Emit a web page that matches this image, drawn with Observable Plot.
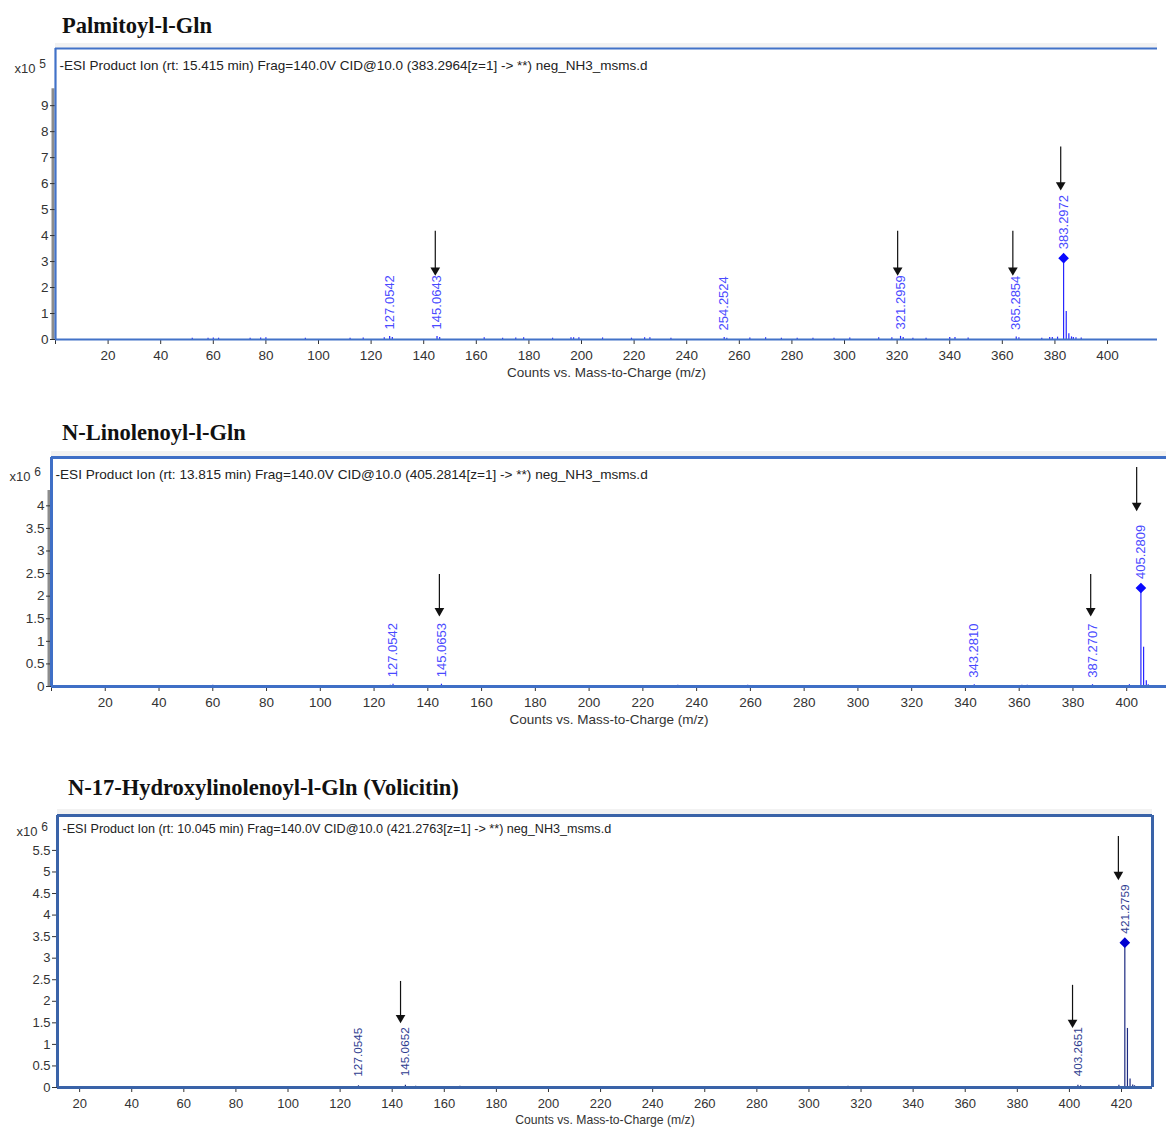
<!DOCTYPE html>
<html><head><meta charset="utf-8">
<script src="https://cdn.jsdelivr.net/npm/d3@7"></script>
<script src="https://cdn.jsdelivr.net/npm/@observablehq/plot@0.6"></script>
<style>
body{margin:0;background:#fff;width:1166px;height:1127px;position:relative;overflow:hidden;font-family:"Liberation Sans",Arial,sans-serif}
.title{position:absolute;font-family:"Liberation Serif","Times New Roman",serif;font-weight:bold;font-size:22.5px;line-height:22px;color:#111;white-space:nowrap}
.panel{position:absolute;left:0}
.strip{position:absolute;height:5px;background:#f2f2f2}
</style></head><body>
<div class="strip" style="left:55px;top:43px;width:1102px"></div>
<div class="strip" style="left:51px;top:451px;width:1115px"></div>
<div class="strip" style="left:57px;top:809px;width:1095px"></div>
<div class="title" id="t1" style="left:62px;top:15px"></div>
<div class="title" id="t2" style="left:62px;top:422px"></div>
<div class="title" id="t3" style="left:68px;top:777px"></div>
<div class="panel" id="p1" style="top:40px"></div>
<div class="panel" id="p2" style="top:450px"></div>
<div class="panel" id="p3" style="top:808px"></div>
<script>
// ---------- data ----------
const titles = ["Palmitoyl-l-Gln", "N-Linolenoyl-l-Gln", "N-17-Hydroxylinolenoyl-l-Gln (Volicitin)"];
const headers = [
  "-ESI Product Ion (rt: 15.415 min) Frag=140.0V CID@10.0 (383.2964[z=1] -> **) neg_NH3_msms.d",
  "-ESI Product Ion (rt: 13.815 min) Frag=140.0V CID@10.0 (405.2814[z=1] -> **) neg_NH3_msms.d",
  "-ESI Product Ion (rt: 10.045 min) Frag=140.0V CID@10.0 (421.2763[z=1] -> **) neg_NH3_msms.d"
];
const exponents = ["5", "6", "6"];
const xAxisLabel = "Counts vs. Mass-to-Charge (m/z)";

// Panel 1 (x10^5 counts)
const p1Labels = ["127.0542", "145.0643", "254.2524", "321.2959", "365.2854", "383.2972"];
const p1Values = [0.12, 0.12, 0.08, 0.12, 0.1, 3.13];
const p1Isotopes = [[384.30, 1.08], [385.30, 0.22], [386.30, 0.1]];
const p1Noise = [[52,0.05],[58,0.05],[60,0.06],[62,0.05],[74,0.05],[78,0.06],[80,0.07],[95,0.05],[112,0.05],[117,0.06],[125,0.07],[128.06,0.08],[146.07,0.08],[163,0.07],[170,0.05],[175,0.06],[178,0.07],[189,0.05],[196,0.07],[197,0.07],[199,0.07],[208,0.06],[219,0.05],[224,0.07],[226,0.07],[234,0.05],[255.25,0.05],[264,0.06],[270,0.07],[276,0.05],[282,0.05],[288,0.05],[296,0.05],[302,0.06],[313,0.07],[318,0.07],[322.3,0.08],[326,0.05],[331,0.05],[340,0.08],[342,0.08],[347,0.06],[366.3,0.07],[375,0.05],[378,0.08],[379,0.08],[381,0.09],[387,0.08],[388,0.07],[390,0.06]];
const p1Arrows = [[144.4, 4.17, 2.55], [320.2, 4.17, 2.55], [364.0, 4.17, 2.55], [382.2, 7.41, 5.83]];
const p1YTicks = [0,1,2,3,4,5,6,7,8,9];
const p1XTicks = [0,20,40,60,80,100,120,140,160,180,200,220,240,260,280,300,320,340,360,380,400];

// Panel 2 (x10^6 counts)
const p2Labels = ["127.0542", "145.0653", "343.2810", "387.2707", "405.2809"];
const p2Values = [0.05, 0.05, 0.04, 0.04, 2.18];
const p2Isotopes = [[406.28, 0.87], [407.29, 0.13]];
const p2Noise = [[60,0.03],[126.06,0.03],[233,0.025],[259,0.025],[361,0.03],[363,0.03],[401,0.04],[408,0.04]];
const p2Arrows = [[144.3, 2.48, 1.61], [386.6, 2.48, 1.61], [403.7, 4.85, 3.94]];
const p2YTicks = [0,0.5,1,1.5,2,2.5,3,3.5,4];
const p2XTicks = [0,20,40,60,80,100,120,140,160,180,200,220,240,260,280,300,320,340,360,380,400];

// Panel 3 (x10^6 counts)
const p3Labels = ["127.0545", "145.0652", "403.2651", "421.2759"];
const p3Values = [0.04, 0.05, 0.05, 3.36];
const p3Isotopes = [[422.28, 1.37], [423.28, 0.20], [424.30, 0.06]];
const p3Noise = [[44,0.02],[60,0.02],[68,0.02],[107,0.02],[149,0.03],[166,0.03],[206,0.02],[222,0.02],[231,0.02],[315,0.03],[404.3,0.04],[419,0.05],[425,0.04]];
const p3Arrows = [[143.2, 2.46, 1.55], [401.2, 2.37, 1.44], [418.8, 5.82, 4.87]];
const p3YTicks = [0,0.5,1,1.5,2,2.5,3,3.5,4,4.5,5,5.5];
const p3XTicks = [20,40,60,80,100,120,140,160,180,200,220,240,260,280,300,320,340,360,380,400,420];

// ---------- drawing ----------
const FONT = '"Liberation Sans", Arial, sans-serif';
function spectrum(o) {
  const peaks = o.labels.map((l, i) => ({mz: +l, i: o.values[i], label: l}));
  const main = peaks[peaks.length - 1];
  const minor = peaks.slice(0, -1);
  const lines = peaks.concat(o.isotopes.map(([mz, i]) => ({mz, i})), o.noise.map(([mz, i]) => ({mz, i})));
  const arrows = o.arrows.map(([mz, top, bottom]) => ({mz, top, bottom}));
  const [x0, x1] = o.xDomain, yMax = o.yDomain[1];
  const marks = [
    o.grayTop ? Plot.ruleX([x0], {y1: 0, y2: o.grayTop, stroke: "#8c8c8c", strokeWidth: 3, dx: -2.5}) : null,
    Plot.axisY({ticks: o.yTicks, tickSize: 5, tickPadding: 2, tickFormat: d => String(d), label: null, fontSize: o.fs, color: "#333"}),
    Plot.axisX({ticks: o.xTicks, tickSize: 5, tickPadding: 6, tickFormat: d => d === 0 ? "" : String(d), label: null, fontSize: o.fs, color: "#333"}),
    Plot.ruleX(lines, {x: "mz", y1: 0, y2: "i", stroke: o.lineColor, strokeWidth: 1.2}),
    Plot.dot([main], {x: "mz", y: "i", symbol: "square", rotate: 45, r: 3.4, fill: o.diamond, stroke: o.diamond}),
    Plot.text(minor, {x: "mz", y: "i", text: "label", rotate: -90, textAnchor: "start", dy: o.ldyMinor, fill: o.labelColor, fontSize: o.lfs}),
    Plot.text([main], {x: "mz", y: "i", text: "label", rotate: -90, textAnchor: "start", dy: -9, fill: o.labelColor, fontSize: o.lfs}),
    Plot.ruleX(arrows, {x: "mz", y1: "top", y2: "bottom", stroke: "#111", strokeWidth: 1.2}),
    Plot.dot(arrows, {x: "mz", y: "bottom", symbol: "triangle", rotate: 180, r: 3.6, fill: "#111", stroke: "none", dy: -3}),
    Plot.ruleY([yMax], {stroke: o.frameColor, strokeWidth: o.frameWidth}),
    Plot.ruleY([0], {stroke: o.frameColor, strokeWidth: o.frameWidth}),
    Plot.ruleX([x0], {stroke: o.frameColor, strokeWidth: o.frameWidth}),
    o.rightBorder ? Plot.ruleX([x1], {stroke: o.frameColor, strokeWidth: o.frameWidth}) : null,
    Plot.text([o.header], {frameAnchor: "top-left", text: d => d, dx: o.hdx, dy: o.hdy, textAnchor: "start", fontSize: o.hfs, fill: "#222"}),
    Plot.text(["x10"], {frameAnchor: "top-left", text: d => d, dx: o.edx, dy: o.edy, textAnchor: "end", fontSize: 13, fill: "#333"}),
    Plot.text([o.exponent], {frameAnchor: "top-left", text: d => d, dx: o.edx + 7, dy: o.edy - 4, textAnchor: "middle", fontSize: 12, fill: "#333"}),
    Plot.text([xAxisLabel], {frameAnchor: "bottom", text: d => d, dy: o.ldy, fontSize: o.afs, fill: "#333"})
  ].filter(Boolean);
  return Plot.plot({
    width: 1166, height: o.height,
    marginTop: o.mt, marginBottom: o.mb, marginLeft: o.ml, marginRight: o.mr,
    style: {fontFamily: FONT, fontSize: "13.5px", color: "#333", background: "transparent", overflow: "visible"},
    x: {domain: o.xDomain},
    y: {domain: o.yDomain},
    marks
  });
}

document.getElementById("t1").textContent = titles[0];
document.getElementById("t2").textContent = titles[1];
document.getElementById("t3").textContent = titles[2];

document.getElementById("p1").append(spectrum({
  labels: p1Labels, values: p1Values, isotopes: p1Isotopes, noise: p1Noise, arrows: p1Arrows,
  yTicks: p1YTicks, xTicks: p1XTicks, header: headers[0], exponent: exponents[0],
  xDomain: [0, 419], yDomain: [0, 11.2], height: 344, mt: 8, mb: 45, ml: 55, mr: 9,
  lineColor: "#2626ff", labelColor: "#4a4aff", diamond: "#0a0aff", frameColor: "#4272c8", frameWidth: 2.2,
  grayTop: 9.65, rightBorder: false, hdx: 4, hdy: 12, edx: -20, edy: 15, ldy: 37,
  fs: 13.5, hfs: 13.5, afs: 13.5, lfs: 13, ldyMinor: -7
}));
document.getElementById("p2").append(spectrum({
  labels: p2Labels, values: p2Values, isotopes: p2Isotopes, noise: p2Noise, arrows: p2Arrows,
  yTicks: p2YTicks, xTicks: p2XTicks, header: headers[1], exponent: exponents[1],
  xDomain: [0, 414.8], yDomain: [0, 5.07], height: 280, mt: 7, mb: 44, ml: 51, mr: 0,
  lineColor: "#2626ff", labelColor: "#4a4aff", diamond: "#0a0aff", frameColor: "#3f6fc6", frameWidth: 3,
  grayTop: 4.34, rightBorder: false, hdx: 4, hdy: 12, edx: -21, edy: 14, ldy: 37,
  fs: 13.5, hfs: 13.6, afs: 13.5, lfs: 13, ldyMinor: -7
}));
document.getElementById("p3").append(spectrum({
  labels: p3Labels, values: p3Values, isotopes: p3Isotopes, noise: p3Noise, arrows: p3Arrows,
  yTicks: p3YTicks, xTicks: p3XTicks, header: headers[2], exponent: exponents[2],
  xDomain: [11.5, 431.9], yDomain: [0, 6.31], height: 319, mt: 7, mb: 40, ml: 57, mr: 14,
  lineColor: "#1c2a80", labelColor: "#2e3c90", diamond: "#0000d0", frameColor: "#3a63a8", frameWidth: 3,
  grayTop: null, rightBorder: true, hdx: 5, hdy: 9, edx: -20, edy: 11, ldy: 36,
  fs: 13, hfs: 12.6, afs: 12.2, lfs: 11.8, ldyMinor: -9
}));
</script>
</body></html>
